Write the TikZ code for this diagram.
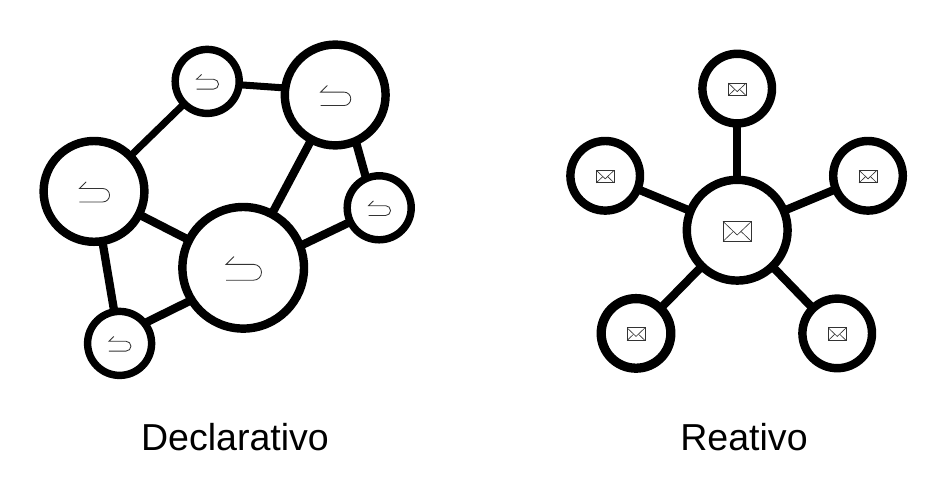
\documentclass[tikz,border=0pt]{standalone}
\usepackage{fontspec}
\setmainfont{Liberation Sans}
\tikzset{
    bignode/.style={draw,circle,line width=6pt,outer sep=0pt,minimum size=3.04cm},
    midnode/.style={draw,circle,line width=6pt,outer sep=0pt,minimum size=2.52cm},
    smallnode/.style={draw,circle,line width=5.3pt,outer sep=0pt,minimum size=1.6cm},
    msgnode/.style={draw,circle,line width=6pt,outer sep=0pt,minimum size=1.74cm},
    link/.style={line width=5.9pt},
    thinlink/.style={line width=5pt},
    caption/.style={anchor=base,font=\fontsize{26.7pt}{30pt}\selectfont},
    backicon/.pic={
        \draw[line width=.6pt,black!80] (-.23,.28) -- (-.43,.085) -- (.26,.085) arc (90:-90:.1975) -- (-.43,-.31);
    },
    mailicon/.pic={
        \draw[line width=.6pt,black!80] (-.355,-.28) rectangle (.355,.22);
        \draw[line width=.45pt,black!80] (-.355,.22) -- (0,-.12) -- (.355,.22);
        \draw[line width=.45pt,black!80] (-.355,-.28) -- (-.1,-.035);
        \draw[line width=.45pt,black!80] (.355,-.28) -- (.1,-.035);
    }
}
\begin{document}
\begin{tikzpicture}
    \useasboundingbox (0,0) rectangle (23.675,12.125);

    \node[bignode] (big) at (6.08,5.43) {};
    \node[midnode] (west) at (2.35,7.34) {};
    \node[smallnode] (north) at (5.18,10.09) {};
    \node[midnode] (northeast) at (8.38,9.75) {};
    \node[smallnode] (east) at (9.48,6.93) {};
    \node[smallnode] (south) at (2.99,3.54) {};

    \draw[thinlink] (west) -- (north);
    \draw[thinlink] (north.-6) -- (northeast.172);
    \draw[link] (northeast.-66) -- (east.114);
    \draw[link] (northeast) -- (big);
    \draw[link] (east.206) -- (big.21);
    \draw[link] (west) -- (big);
    \draw[link] (west) -- (south);
    \draw[link] (south.39) -- (big.212);

    \pic[scale=1] at (big) {backicon};
    \pic[scale=.85] at (west) {backicon};
    \pic[scale=.85] at (northeast) {backicon};
    \pic[scale=.62] at (north) {backicon};
    \pic[scale=.62] at (east) {backicon};
    \pic[scale=.62] at (south) {backicon};

    \node[midnode] (hub) at (18.43,6.37) {};
    \node[msgnode] (top) at (18.43,9.91) {};
    \node[msgnode] (left) at (15.13,7.73) {};
    \node[msgnode] (right) at (21.70,7.73) {};
    \node[msgnode,line width=6.6pt] (lowleft) at (15.90,3.79) {};
    \node[msgnode] (lowright) at (20.93,3.79) {};

    \draw[link] (hub) -- (top);
    \draw[link] (hub) -- (left);
    \draw[link] (hub) -- (right);
    \draw[link] (hub) -- (lowleft);
    \draw[link] (hub) -- (lowright);

    \pic at (hub) {mailicon};
    \pic[scale=.63] at (top) {mailicon};
    \pic[scale=.63] at (left) {mailicon};
    \pic[scale=.63] at (right) {mailicon};
    \pic[scale=.63] at (lowleft) {mailicon};
    \pic[scale=.63] at (lowright) {mailicon};

    \node[caption] (declarative) at (5.875,.85) {Declarativo};
    \node[caption] (reactive) at (18.6,.85) {Reativo};
\end{tikzpicture}
\end{document}
